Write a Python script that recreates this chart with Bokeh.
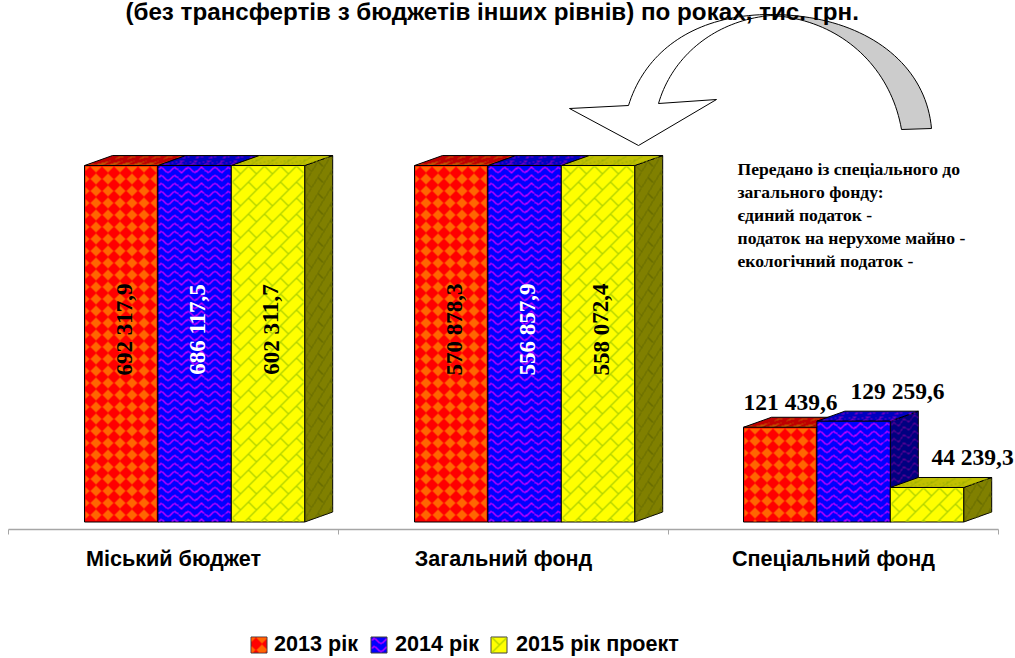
import numpy as np
from bokeh.plotting import figure
from bokeh.models import FixedTicker, Legend, LegendItem
from bokeh.core.properties import value
from bokeh.embed import file_html
from bokeh.resources import INLINE

categories = ["Міський бюджет", "Загальний фонд", "Спеціальний фонд"]
years = ["2013 рік", "2014 рік", "2015 рік проект"]
v2013 = [692317.9, 570878.3, 121439.6]
v2014 = [686117.5, 556857.9, 129259.6]
v2015 = [602311.7, 558072.4, 44239.3]
axis_max = 457000
title = "(без трансфертів з бюджетів інших рівнів) по роках,  тис. грн."
note = ["Передано із спеціального до", "загального фонду:", "єдиний податок -",
        "податок на нерухоме майно -", "екологічний податок -"]

W, H = 1015, 658
CAT = 330.0; LEFT = 8.0; BASE = 521.5; K = 0.00078
def X(px): return (px - LEFT) / CAT
def Y(px): return (BASE - px) / K
def PX(x): return x * CAT + LEFT
def PY(y): return BASE - y * K

# Texture masks: u, v are texture-space pixel coordinates
def tex_diamonds(u, v):
    du = np.abs(((u - 5) % 12) - 6)
    dv = np.abs(((v - 7) % 12) - 6)
    return du + dv <= 5.0
def tex_waves(u, v):
    t = (u % 13.4) / 13.4
    w = 2.2 * np.sin(2 * np.pi * t)
    return np.abs(((v + w) % 8) - 4) <= 0.9
def tex_bricks(u, v):
    s = u + v
    band = np.floor(s / 16)
    line = (s % 16) < 1.6
    d = (u - v + 16 * (band % 2)) % 32
    return line | (d < 1.6)

styles = [
    dict(tex=tex_diamonds, front=("#ff0000", "#ff6600"), top=("#c00000", "#c05000"), side=("#800000", "#803000")),
    dict(tex=tex_waves, front=("#0000ff", "#c800ff"), top=("#0000c0", "#7000c0"), side=("#000080", "#500090")),
    dict(tex=tex_bricks, front=("#ffff00", "#b4d400"), top=("#c0c000", "#a0b000"), side=("#808000", "#646a00")),
]

def rgba(hexcol):
    return tuple(int(hexcol[i:i + 2], 16) for i in (1, 3, 5)) + (255,)

p = figure(width=W, height=H, output_backend="svg", toolbar_location=None,
           x_range=(X(0), X(W)), y_range=(Y(H), Y(0)), y_axis_location=None,
           min_border_left=0, min_border_right=0, min_border_top=0, min_border_bottom=0,
           outline_line_color=None, background_fill_color="white", tools="")
p.grid.visible = False

def texture(x_px, y_px, w, h, mask_fn, col, level="glyph"):
    """Place a pixel-aligned hatch image; mask_fn(ii, jj) gives a boolean array."""
    x_px = int(round(x_px)); y_px = int(round(y_px))
    jj, ii = np.mgrid[0:h, 0:w]
    m = mask_fn(ii.astype(float), jj.astype(float))
    img = np.zeros((h, w), dtype=np.uint32)
    r, g, b, a = rgba(col)
    img[m] = (a << 24) | (b << 16) | (g << 8) | r
    p.image_rgba(image=[img[::-1]], x=[X(x_px)], y=[Y(y_px + h)], dw=[w / CAT], dh=[h * 1.0 / K], level=level)

ax = p.xaxis[0]
ax.fixed_location = Y(528.5)
ax.ticker = FixedTicker(ticks=[0.5, 1.5, 2.5], minor_ticks=[0, 1, 2, 3])
ax.bounds = (0, 3)
ax.major_label_overrides = {0.5: categories[0], 1.5: categories[1], 2.5: categories[2]}
ax.major_label_text_font = "Liberation Sans"
ax.major_label_text_font_style = "bold"
ax.major_label_text_font_size = "21.6px"
ax.major_label_text_color = "black"
ax.major_label_standoff = 12
ax.major_tick_out = 0; ax.major_tick_in = 0
ax.minor_tick_out = 5; ax.minor_tick_in = 0
ax.minor_tick_line_color = "#a6a6a6"
ax.axis_line_color = "#a6a6a6"
ax.axis_line_width = 1.5

BAR = 73.4 / CAT
DXP, DYP = 28, 10
DX = DXP / CAT
DY = DYP / K
offs = [76 / CAT, 76 / CAT, 75 / CAT]
series = [v2013, v2014, v2015]

legend_refs = {}
for g in range(3):
    for s in range(3):
        st = styles[s]
        fn = st["tex"]
        v = min(series[s][g], axis_max)
        x0 = g + offs[g] + s * BAR
        x1 = x0 + BAR
        xp0, xp1 = round(PX(x0)), round(PX(x1))
        ytop, ybot = round(PY(v)), round(PY(0))
        wf, hf = xp1 - xp0, ybot - ytop

        # side face
        p.patches([[x1, x1 + DX, x1 + DX, x1]], [[0, DY, v + DY, v]], fill_color=st["side"][0],
                  line_color="black", line_width=1)
        def side_mask(ii, jj, hf=hf, fn=fn):
            vv = jj - DYP + ii * DYP / DXP
            inside = (vv >= 1) & (vv <= hf - 1) & (ii >= 1) & (ii <= DXP - 1)
            return inside & fn(ii * 1.3, vv)
        texture(xp1, ytop - DYP, DXP, hf + DYP, side_mask, st["side"][1])

        # top face
        p.patches([[x0, x0 + DX, x1 + DX, x1]], [[v, v + DY, v + DY, v]], fill_color=st["top"][0],
                  line_color="black", line_width=1)
        def top_mask(ii, jj, wf=wf, fn=fn):
            rr = DYP - jj
            uu = ii - rr * DXP / DYP
            inside = (uu >= 1) & (uu <= wf - 1) & (rr >= 1) & (rr <= DYP - 1)
            return inside & fn(uu, rr * 1.2)
        texture(xp0, ytop - DYP, wf + DXP, DYP, top_mask, st["top"][1])

        # front face
        p.quad(left=[x0], right=[x1], bottom=[0], top=[v], fill_color=st["front"][0],
               line_color="black", line_width=1)
        def front_mask(ii, jj, wf=wf, hf=hf, fn=fn):
            inside = (ii >= 1) & (ii <= wf - 2) & (jj >= 1) & (jj <= hf - 2)
            return inside & fn(ii, jj)
        texture(xp0, ytop, wf, hf, front_mask, st["front"][1])

def fmt(v):
    return f"{v:,.1f}".replace(",", " ").replace(".", ",")

serif = value("Liberation Serif")
for g in range(2):
    for s in range(3):
        x0 = g + offs[g] + s * BAR
        p.text([x0 + BAR / 2 + 3 / CAT], [Y(329)], text=[fmt(series[s][g])], angle=1.5708,
               text_font=serif, text_font_style="bold", text_font_size="23px",
               text_color="white" if s == 1 else "black", text_align="center", text_baseline="middle")
lab_x = [790, 897, 972]
lab_y = [401, 390, 456]
for s in range(3):
    p.text([X(lab_x[s])], [Y(lab_y[s])], text=[fmt(series[s][2])], text_font=serif, text_font_style="bold",
           text_font_size="23.5px", text_color="black", text_align="center", text_baseline="middle")

for i, line in enumerate(note):
    p.text([X(737)], [Y(168 + i * 23)], text=[line], text_font=serif, text_font_style="bold",
           text_font_size="17.6px", text_color="black", text_align="left", text_baseline="middle")

def bez(a, b, c, d, n=40):
    out = []
    for i in range(n + 1):
        t = i / n; u = 1 - t
        out.append(tuple(u**3 * a[k] + 3 * u * u * t * b[k] + 3 * u * t * t * c[k] + t**3 * d[k] for k in range(2)))
    return out

grey = bez((770, 14), (860, 14), (925, 60), (931, 128)) + bez((901, 129), (890, 65), (838, 18), (770, 15))
white = bez((770, 14), (695, 14), (645, 50), (628, 105)) + [(569, 108), (638, 145), (716, 99), (658, 103)] + bez((658, 103), (672, 55), (715, 20), (770, 15))
for pts, col in ((white, "white"), (grey, "#cccccc")):
    p.patch([X(a) for a, _ in pts], [Y(b) for _, b in pts], fill_color=col, line_color="black", line_width=1)

p.text([X(495)], [Y(10.5)], text=[title], text_font=value("Liberation Sans"), text_font_style="bold",
       text_font_size="24.2px", text_color="black", text_align="center", text_baseline="alphabetic")

# Legend swatches: solid quad plus hatch image; the Legend itself carries the labels
swatch_x = [250, 370, 490]
for s in range(3):
    st = styles[s]
    fn = st["tex"]
    sx = swatch_x[s]
    legend_refs[s] = p.quad(left=[X(sx)], right=[X(sx + 16)], bottom=[Y(652)], top=[Y(636)],
                            fill_alpha=0, line_alpha=0)
    p.quad(left=[X(sx + 0.5)], right=[X(sx + 16.5)], bottom=[Y(652.5)], top=[Y(636.5)],
           fill_color=st["front"][0], line_color="#404040", line_width=1)
    def sw_mask(ii, jj, fn=fn):
        return (ii >= 1) & (ii <= 15) & (jj >= 1) & (jj <= 15) & fn(ii, jj)
    texture(sx, 636, 17, 17, sw_mask, st["front"][1])

legend = Legend(items=[LegendItem(label=years[i], renderers=[legend_refs[i]]) for i in range(3)],
                orientation="horizontal", location=(250, 1), border_line_color=None,
                background_fill_alpha=0, label_text_font="Liberation Sans", label_text_font_style="bold",
                label_text_font_size="21.6px", label_text_color="black", glyph_width=16, glyph_height=16,
                spacing=13, label_standoff=8, padding=0, margin=0)
p.add_layout(legend)

open("out.html", "w").write(file_html(p, INLINE))
